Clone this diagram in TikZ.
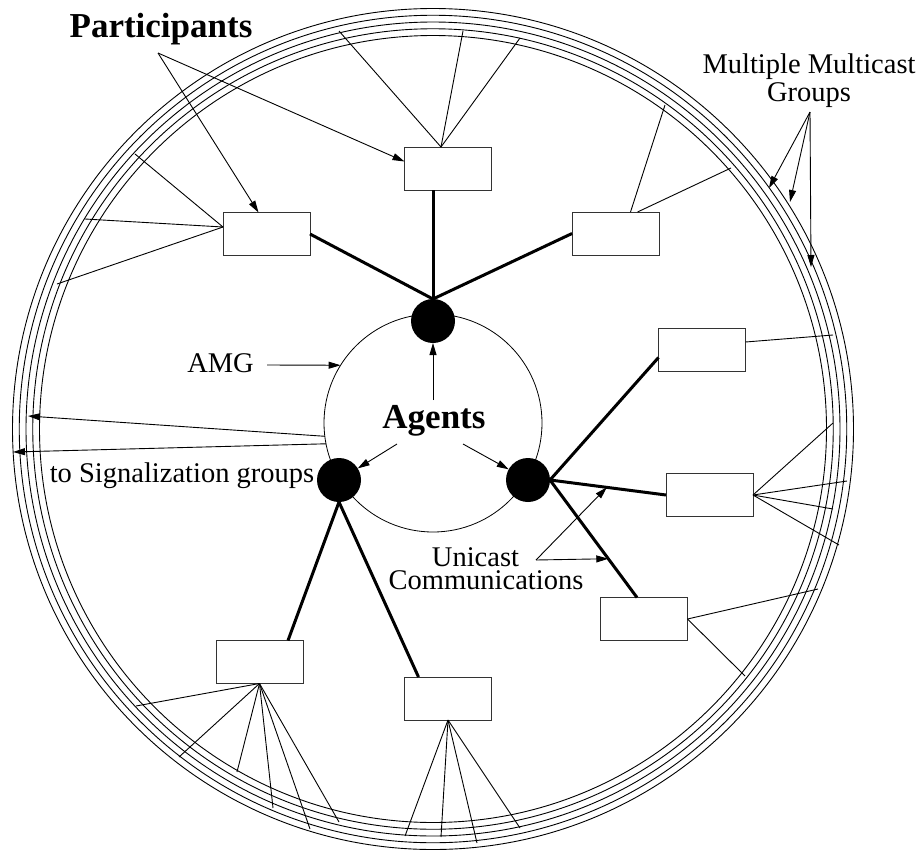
\documentclass[tikz,border=0pt]{standalone}
\usepackage{fontspec}
\setmainfont{Liberation Serif}
\usetikzlibrary{arrows.meta,calc}

\begin{document}
\begin{tikzpicture}
  [x=1pt,y=-1pt,
  part/.style={rectangle,draw=black!80,line width=1pt,minimum width=87pt,
                  minimum height=43pt,inner sep=0,outer sep=0},
  agent/.style={circle,fill=black,minimum size=44pt,inner sep=0,
                  outer sep=0},
  amgring/.style={circle,draw=black,line width=0.8pt,minimum size=218pt,
                  inner sep=0,outer sep=0},
  lbl/.style={inner sep=0,outer sep=0,font=\fontsize{28.5}{28}\selectfont},
  blbl/.style={inner sep=0,outer sep=0,
                  font=\fontsize{35}{36}\selectfont\bfseries},
  ring/.style={draw=black,line width=0.9pt},
  ucast/.style={draw=black,line width=3pt},
  mcast/.style={draw=black,line width=0.9pt},
  ptr/.style={draw=black,line width=0.9pt,-{Triangle[length=12pt,width=7pt]}}
                  ]
  \useasboundingbox (0,0) rectangle (921,852);

  % multicast groups
  \coordinate (ctr) at (433,429);
  \draw[ring] (ctr) circle [radius=420.5pt];
  \draw[ring] (ctr) circle [radius=413.75pt];
  \draw[ring] (ctr) circle [radius=407pt];
  \draw[ring] (ctr) circle [radius=400.25pt];
  \draw[ring] (ctr) circle [radius=393.5pt];

  % agents multicast group
  \node[amgring] (amg) at (433,423) {};
  \node[agent] (a1) at (433,321) {};
  \node[agent] (a2) at (339,480) {};
  \node[agent] (a3) at (528,480) {};

  % participants
  \node[part] (p1) at (448,168.5) {};
  \node[part] (p2) at (266.5,234) {};
  \node[part] (p3) at (615.5,233.5) {};
  \node[part] (p4) at (702,350) {};
  \node[part] (p5) at (709.5,495) {};
  \node[part] (p6) at (644,619) {};
  \node[part] (p7) at (259.5,662) {};
  \node[part] (p8) at (448,698.5) {};

  % points on the group rings
  \coordinate (g1) at (339,31);
  \coordinate (g2) at (463,31);
  \coordinate (g3) at (520,38);
  \coordinate (g4) at (135,154);
  \coordinate (g5) at (85,219);
  \coordinate (g6) at (57,284);
  \coordinate (g7) at (665,105);
  \coordinate (g8) at (731,168);
  \coordinate (g9) at (833,335);
  \coordinate (g10) at (833,423);
  \coordinate (g11) at (847,481);
  \coordinate (g12) at (833,509);
  \coordinate (g13) at (839,545);
  \coordinate (g14) at (818,589);
  \coordinate (g15) at (745,676);
  \coordinate (g16) at (136,706);
  \coordinate (g17) at (179,757);
  \coordinate (g18) at (237,772);
  \coordinate (g19) at (273,808);
  \coordinate (g20) at (310,829);
  \coordinate (g21) at (339,822);
  \coordinate (g22) at (405,836);
  \coordinate (g23) at (441,837);
  \coordinate (g24) at (477,843);
  \coordinate (g25) at (520,828);

  % labels
  \node[blbl,anchor=base] (partlbl) at (161,37) {Participants};
  \node[lbl,anchor=north,align=center] (mmlbl) at (809,54)
       {Multiple Multicast\\Groups};
  \node[lbl,anchor=base] (amglbl) at (220.5,372) {AMG};
  \node[blbl,anchor=base] (agentslbl) at (434,428) {Agents};
  \node[lbl,anchor=base] (siglbl) at (182,482) {to Signalization groups};
  \node[lbl,anchor=north,align=center,font=\fontsize{28.5}{23}\selectfont]
       (unilbl) at (486,547.5) {\hspace*{-21pt}Unicast\\Communications};

  \coordinate (partsplit) at (158,53);
  \coordinate (mmsplit) at (810,112);
  \coordinate (mmh1) at (769,188);
  \coordinate (mmh2) at (790,202);
  \coordinate (mmh3) at (811,267);
  \coordinate (amgtail) at (267,365);
  \coordinate (agu) at (433,400);
  \coordinate (agl) at (397,444);
  \coordinate (agr) at (463,444);
  \coordinate (sigh1) at (28,416);
  \coordinate (sigh2) at (13,452);
  \coordinate (unisplit) at (536,560);

  % unicast communications
  \draw[ucast] (a1.north) to (a1.north |- p1.south);
  \draw[ucast] (a1.north) to (p2.east);
  \draw[ucast] (a1.north) to (p3.west);
  \draw[ucast] (a3.east) to ([yshift=14pt]p4.south west);
  \draw[ucast] (a3.east) to (p5.west);
  \draw[ucast] (a3.east) to ([xshift=-7pt]p6.north);
  \draw[ucast] (a2.south) to ([xshift=-15pt]p7.north east);
  \draw[ucast] (a2.south) to ([xshift=14pt]p8.north west);

  % multicast links
  \draw[mcast] ([xshift=-7pt]p1.north) to (g1);
  \draw[mcast] ([xshift=-7pt]p1.north) to (g2);
  \draw[mcast] ([xshift=-7pt]p1.north) to (g3);
  \draw[mcast] ([yshift=7pt]p2.west) to (g4);
  \draw[mcast] ([yshift=7pt]p2.west) to (g5);
  \draw[mcast] ([yshift=7pt]p2.west) to (g6);
  \draw[mcast] ([xshift=15pt]p3.north) to (g7);
  \draw[mcast] ([xshift=22pt]p3.north) to (g8);
  \draw[mcast] ([yshift=8pt]p4.east) to (g9);
  \draw[mcast] (p5.east) to (g10);
  \draw[mcast] (p5.east) to (g11);
  \draw[mcast] (p5.east) to (g12);
  \draw[mcast] (p5.east) to (g13);
  \draw[mcast] (p6.east) to (g14);
  \draw[mcast] (p6.east) to (g15);
  \draw[mcast] (p7.south) to (g16);
  \draw[mcast] (p7.south) to (g17);
  \draw[mcast] (p7.south) to (g18);
  \draw[mcast] (p7.south) to (g19);
  \draw[mcast] (p7.south) to (g20);
  \draw[mcast] (p7.south) to (g21);
  \draw[mcast] (p8.south) to (g22);
  \draw[mcast] (p8.south) to (g23);
  \draw[mcast] (p8.south) to (g24);
  \draw[mcast] (p8.south) to (g25);

  % label pointers
  \draw[ptr] (partsplit) to ([yshift=7pt]p1.west);
  \draw[ptr] (partsplit) to ([xshift=-8pt]p2.north);
  \draw[ptr] (mmsplit) to (mmh1);
  \draw[ptr] (mmsplit) to (mmh2);
  \draw[ptr] (mmsplit) to (mmh3);
  \draw[ptr] (amgtail) to (amg.148);
  \draw[ptr] (agu) to (a1.south);
  \draw[ptr] (agl) to (a2);
  \draw[ptr] (agr) to (a3);
  \draw[ptr] (amg.187) to (sigh1);
  \draw[ptr] (amg.191) to (sigh2);
  \draw[ptr] (unisplit) to ($(a3.east)!0.49!(p5.west)$);
  \draw[ptr] (unisplit) to ($(a3.east)!0.67!([xshift=-7pt]p6.north)$);
\end{tikzpicture}
\end{document}
